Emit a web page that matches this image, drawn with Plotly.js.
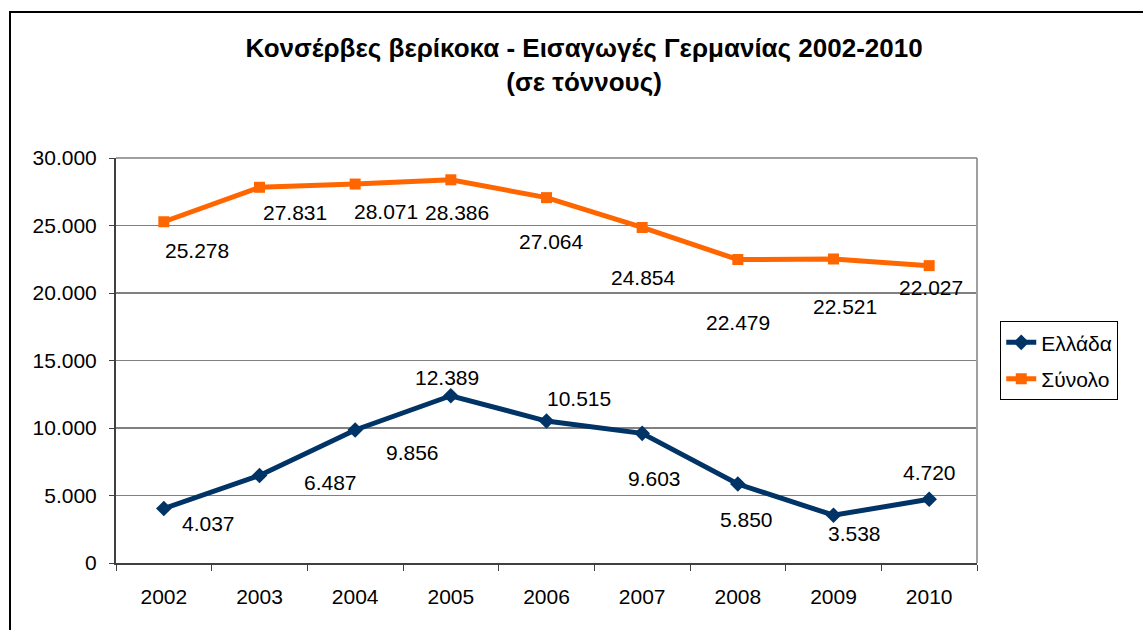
<!DOCTYPE html>
<html>
<head>
<meta charset="utf-8">
<script src="https://cdn.plot.ly/plotly-3.0.1.min.js"></script>
<style>
  html, body { margin:0; padding:0; background:#fff; overflow:hidden; }
  #wrap { position:relative; width:1143px; height:630px; }
  #chart { position:absolute; left:0; top:0; width:1143px; height:630px; }
  #frame { position:absolute; left:9px; top:11px; width:1200px; height:700px;
           border-left:2px solid #000; border-top:2px solid #000; pointer-events:none; }
</style>
</head>
<body>
<div id="wrap"><div id="chart"></div><div id="frame"></div></div>
<script>
const years = ['2002','2003','2004','2005','2006','2007','2008','2009','2010'];
const greece = [4037, 6487, 9856, 12389, 10515, 9603, 5850, 3538, 4720];
const total  = [25278, 27831, 28071, 28386, 27064, 24854, 22479, 22521, 22027];
const greeceName = 'Ελλάδα';
const totalName = 'Σύνολο';
const yTicks = [0, 5000, 10000, 15000, 20000, 25000, 30000];

// label pixel offsets (dx right, dy down) relative to each point
const greeceOff = [[45,15],[71,7],[57,23],[-4,-18],[32,-23],[12,45],[9,35],[21,18],[0,-27]];
const totalOff  = [[33,29],[35,25],[31,27],[6,33],[5,44],[1,50],[0,63],[11,48],[2,22]];

const fmt = v => v.toString().replace(/\B(?=(\d{3})+(?!\d))/g, '.');
const FONT = 'Liberation Sans, Arial, sans-serif';
const FS = 21;

const annotations = [];
function addLabels(vals, offs) {
  vals.forEach((v, i) => {
    annotations.push({
      x: i, y: v, xref: 'x', yref: 'y', text: fmt(v), showarrow: false,
      xanchor: 'center', yanchor: 'middle',
      xshift: offs[i][0], yshift: -offs[i][1],
      font: {family: FONT, size: FS, color: '#000'}
    });
  });
}
addLabels(greece, greeceOff);
addLabels(total, totalOff);

const traces = [
  { x: years, y: greece, name: greeceName, legendgroup: 'g', type: 'scatter', mode: 'lines+markers',
    line: {color: '#003366', width: 5}, marker: {symbol: 'diamond', size: 12, color: '#003366'} },
  { x: years, y: total, name: totalName, legendgroup: 't', type: 'scatter', mode: 'lines+markers',
    line: {color: '#FF6600', width: 5}, marker: {symbol: 'square', size: 11, color: '#FF6600'} }
];

const layout = {
  width: 1143, height: 630,
  margin: {l: 116, r: 166, t: 158, b: 67, pad: 0},
  paper_bgcolor: '#fff', plot_bgcolor: '#fff',
  separators: ',.',
  font: {family: FONT, size: FS, color: '#000'},
  title: {
    text: '<b>Κονσέρβες βερίκοκα - Εισαγωγές Γερμανίας 2002-2010</b><br><b>(σε τόννους)</b>',
    font: {family: FONT, size: 26, color: '#000'},
    x: 0.511, xanchor: 'center', xref: 'container',
    y: 0.909, yanchor: 'top', yref: 'container'
  },
  xaxis: {
    type: 'category', range: [-0.5, 8.5], tickson: 'boundaries',
    ticks: 'outside', ticklen: 6, tickcolor: '#404040', tickwidth: 1,
    showline: true, linecolor: '#404040', linewidth: 2,
    showgrid: false, zeroline: false, ticklabelstandoff: 14,
    tickfont: {family: FONT, size: FS, color: '#000'}, fixedrange: true
  },
  yaxis: {
    range: [0, 30000], tickvals: yTicks, tickformat: ',d',
    ticks: 'outside', ticklen: 5, tickcolor: '#404040', tickwidth: 1,
    showline: true, linecolor: '#404040', linewidth: 2,
    showgrid: true, gridcolor: '#808080', gridwidth: 1.5,
    zeroline: false, ticklabelstandoff: 8,
    tickfont: {family: FONT, size: FS, color: '#000'}, fixedrange: true
  },
  shapes: [
    {type: 'line', xref: 'paper', yref: 'paper', x0: 1, x1: 1, y0: 0, y1: 1,
     line: {color: '#a0a0a0', width: 2}},
    {type: 'line', xref: 'paper', yref: 'paper', x0: 0, x1: 1, y0: 1, y1: 1,
     line: {color: '#808080', width: 1.5}}
  ],
  annotations: annotations,
  legend: {
    x: 1.027, xanchor: 'left', y: 0.597, yanchor: 'top',
    bordercolor: '#000', borderwidth: 1, bgcolor: '#fff',
    font: {family: FONT, size: FS, color: '#000'},
    tracegroupgap: 6
  },
  showlegend: true
};

Plotly.newPlot('chart', traces, layout, {displayModeBar: false, staticPlot: true});
</script>
</body>
</html>
